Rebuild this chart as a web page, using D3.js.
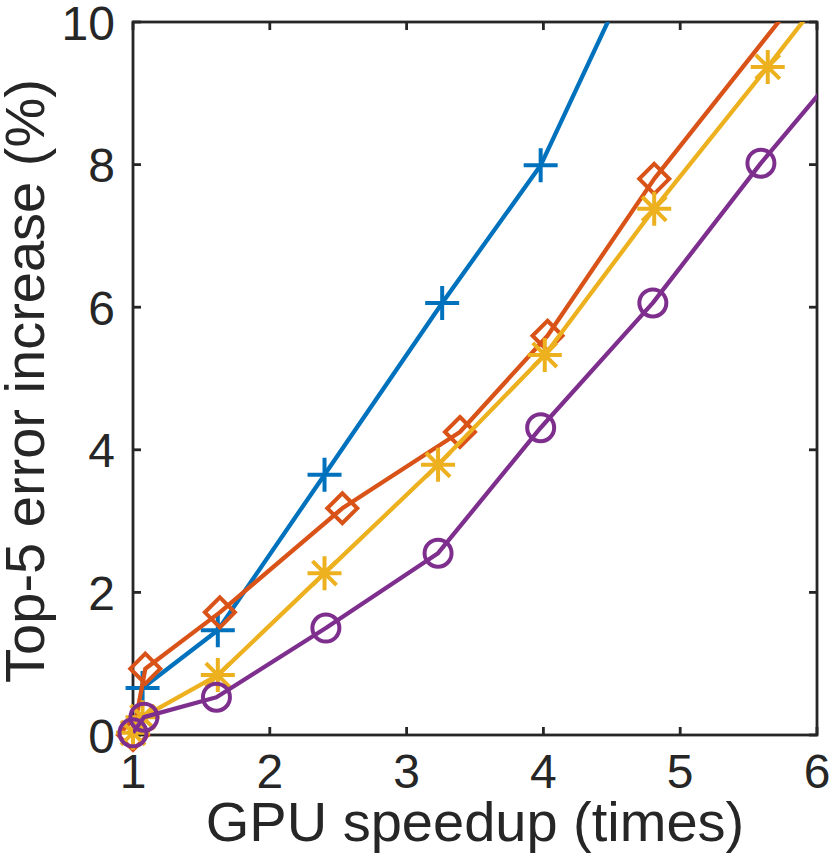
<!DOCTYPE html>
<html><head><meta charset="utf-8">
<script src="https://cdn.jsdelivr.net/npm/d3@7"></script>
<style>body{margin:0;background:#fff}svg{display:block}</style>
</head><body>
<svg id="c" width="830" height="859"></svg>
<script>
const xTicks = [1,2,3,4,5,6];
const yTicks = [0,2,4,6,8,10];
const xLabel = "GPU speedup (times)";
const yLabel = "Top-5 error increase (%)";
const seriesNames = ["blue","red","yellow","purple"];
const seriesColors = ["#0072BD","#D95319","#EDB120","#7E2F8E"];
const seriesMarkers = ["plus","diamond","star","circle"];
const blueX   = [1.07, 1.62, 2.40, 3.26, 3.98, 4.80];
const blueY   = [0.66, 1.47, 3.65, 6.06, 7.99, 11.35];
const redX    = [1.00, 1.09, 1.635, 2.53, 3.39, 4.03, 4.81, 6.40];
const redY    = [0.00, 0.93, 1.72, 3.18, 4.25, 5.60, 7.80, 11.65];
const yellowX = [1.00, 1.07, 1.62, 2.40, 3.23, 4.01, 4.81, 5.64, 6.40];
const yellowY = [0.03, 0.25, 0.84, 2.27, 3.79, 5.33, 7.38, 9.37, 11.25];
const purpleX = [1.00, 1.08, 1.61, 2.41, 3.23, 3.98, 4.80, 5.59, 6.40];
const purpleY = [0.03, 0.25, 0.53, 1.50, 2.55, 4.31, 6.06, 8.02, 9.87];

const allX = [blueX, redX, yellowX, purpleX];
const allY = [blueY, redY, yellowY, purpleY];

const L = 133, R = 817, T = 22, B = 735;
const x = d3.scaleLinear().domain([1,6]).range([L,R]);
const y = d3.scaleLinear().domain([0,10]).range([B,T]);
const svg = d3.select("#c");
const axisColor = "#262626";
const font = "'Liberation Sans', Arial, Helvetica, sans-serif";

svg.append("defs").append("clipPath").attr("id","clip")
  .append("rect").attr("x",L).attr("y",T).attr("width",R-L).attr("height",B-T);

const line = d3.line().x(d=>x(d[0])).y(d=>y(d[1]));

function markerPath(type){
  if(type==="plus"){ const s=17; return `M${-s},0H${s}M0,${-s}V${s}`; }
  if(type==="diamond"){ const s=15; return `M0,${-s}L${s},0L0,${s}L${-s},0Z`; }
  if(type==="star"){ const s=17, d=s*0.7071;
    return `M${-s},0H${s}M0,${-s}V${s}M${-d},${-d}L${d},${d}M${-d},${d}L${d},${-d}`; }
  if(type==="circle"){ const r=13.5; return `M${r},0A${r},${r} 0 1,1 ${-r},0A${r},${r} 0 1,1 ${r},0Z`; }
}

const inDomain = d => d[0]>=1 && d[0]<=6 && d[1]>=0 && d[1]<=10;

// box / axes (drawn first, data on top like MATLAB default)
const ax = svg.append("g");
ax.append("rect").attr("x",L).attr("y",T).attr("width",R-L).attr("height",B-T)
  .attr("fill","none").attr("stroke",axisColor).attr("stroke-width",2.8);
const tl = 8;
xTicks.forEach(t=>{
  ax.append("line").attr("x1",x(t)).attr("x2",x(t)).attr("y1",B).attr("y2",B-tl).attr("stroke",axisColor).attr("stroke-width",2.8);
  ax.append("line").attr("x1",x(t)).attr("x2",x(t)).attr("y1",T).attr("y2",T+tl).attr("stroke",axisColor).attr("stroke-width",2.8);
  ax.append("text").attr("x",x(t)).attr("y",B+53).attr("text-anchor","middle")
    .attr("font-family",font).attr("font-size",48).attr("fill",axisColor).text(t);
});
yTicks.forEach(t=>{
  ax.append("line").attr("x1",L).attr("x2",L+tl).attr("y1",y(t)).attr("y2",y(t)).attr("stroke",axisColor).attr("stroke-width",2.8);
  ax.append("line").attr("x1",R).attr("x2",R-tl).attr("y1",y(t)).attr("y2",y(t)).attr("stroke",axisColor).attr("stroke-width",2.8);
  ax.append("text").attr("x",L-18).attr("y",y(t)+17.5).attr("text-anchor","end")
    .attr("font-family",font).attr("font-size",48).attr("fill",axisColor).text(t);
});
svg.append("text").attr("x",(L+R)/2).attr("y",841).attr("text-anchor","middle")
  .attr("font-family",font).attr("font-size",56).attr("fill",axisColor).text(xLabel);
svg.append("text").attr("transform",`translate(44,381) rotate(-90)`).attr("text-anchor","middle")
  .attr("font-family",font).attr("font-size",56).attr("fill",axisColor).text(yLabel);

allX.forEach((xs,i)=>{
  const pts = xs.map((v,j)=>[v, allY[i][j]]);
  const g = svg.append("g");
  g.append("path").attr("clip-path","url(#clip)").attr("d", line(pts)).attr("fill","none")
    .attr("stroke", seriesColors[i]).attr("stroke-width",4.3).attr("stroke-linejoin","round");
  g.selectAll("path.m").data(pts.filter(inDomain)).enter().append("path").attr("class","m")
    .attr("transform", d=>`translate(${x(d[0])},${y(d[1])})`)
    .attr("d", markerPath(seriesMarkers[i]))
    .attr("fill","none").attr("stroke", seriesColors[i]).attr("stroke-width",4);
});
</script>
</body></html>
